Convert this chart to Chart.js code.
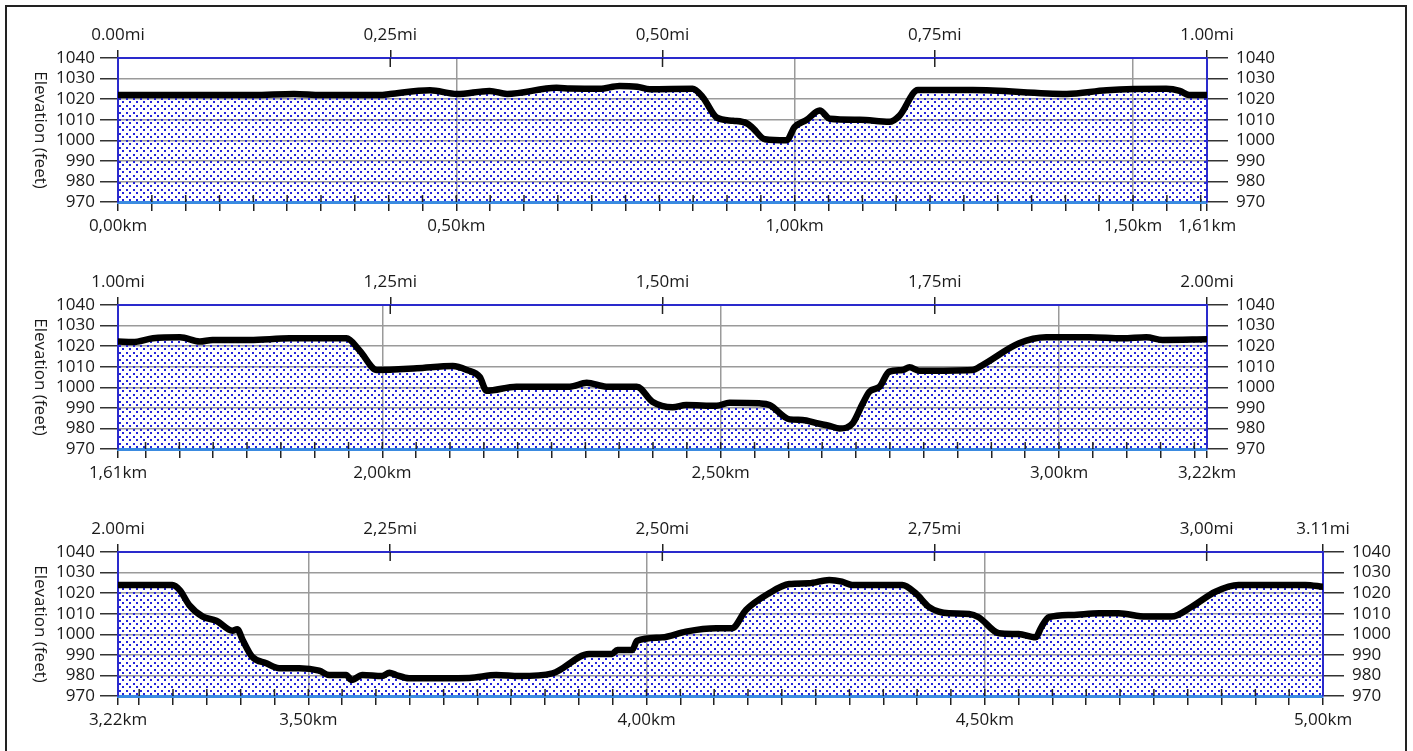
<!DOCTYPE html>
<html>
<head>
<meta charset="utf-8">
<script src="https://cdn.jsdelivr.net/npm/chart.js@4.4.1/dist/chart.umd.min.js"></script>
<style>
  html, body { margin: 0; padding: 0; background: #fff; overflow: hidden; }
  body { width: 1413px; height: 751px; position: relative; }
  #frame { position: absolute; left: 5px; top: 5px; width: 1398px; height: 800px; border: 2px solid #222; border-bottom: none; }
  canvas { position: absolute; left: 0; }
</style>
</head>
<body>
<div id="frame"></div>
<canvas id="c1" width="1413" height="247" style="top:0px"></canvas>
<canvas id="c2" width="1413" height="247" style="top:247px"></canvas>
<canvas id="c3" width="1413" height="247" style="top:494px"></canvas>
<script>
// elevation profile, 3 rows of ~1 mile each
const p1Km = [0, 0.10, 0.20, 0.26, 0.30, 0.387, 0.402, 0.461, 0.501, 0.549, 0.575, 0.648, 0.668, 0.712, 0.741, 0.767, 0.786, 0.849, 0.864, 0.885, 0.909, 0.929, 0.938, 0.956, 0.988, 1.000, 1.018, 1.037, 1.052, 1.096, 1.140, 1.155, 1.182, 1.263, 1.402, 1.461, 1.549, 1.569, 1.583, 1.6093];
const p1Ft = [1022, 1022, 1022, 1022.5, 1022, 1022, 1022.5, 1024.3, 1022.5, 1024, 1022.5, 1025.5, 1025.2, 1025, 1026.4, 1026, 1024.8, 1025, 1021, 1011, 1009.5, 1008.3, 1006, 1000.5, 1000, 1006.5, 1010, 1014.5, 1010.5, 1010, 1009, 1012, 1024.4, 1024.4, 1022.5, 1024.3, 1025, 1024, 1022, 1022];

const p2Km = [1.6093, 1.631, 1.661, 1.701, 1.730, 1.749, 1.804, 1.863, 1.947, 1.966, 1.992, 2.051, 2.104, 2.125, 2.144, 2.154, 2.198, 2.277, 2.302, 2.331, 2.376, 2.399, 2.429, 2.449, 2.494, 2.513, 2.557, 2.572, 2.602, 2.621, 2.642, 2.661, 2.676, 2.695, 2.710, 2.720, 2.735, 2.749, 2.769, 2.779, 2.794, 2.872, 2.887, 2.941, 2.981, 3.045, 3.094, 3.129, 3.153, 3.2187];
const p2Ft = [1022.2, 1022, 1023.8, 1024.3, 1022.2, 1023, 1023, 1023.8, 1023.8, 1018, 1008.4, 1009.2, 1010.3, 1008.4, 1005, 998.3, 1000.3, 1000.3, 1002.2, 1000.3, 1000.3, 993, 990.3, 991.4, 991, 992.5, 992.2, 991.4, 984.4, 984.1, 982.5, 981.2, 980, 982.5, 992.2, 997.9, 1000.3, 1007.6, 1008.4, 1009.7, 1008, 1008.4, 1010.8, 1021.4, 1024.3, 1024.3, 1023.8, 1024.3, 1023, 1023.3];

const p3Km = [3.2187, 3.299, 3.310, 3.324, 3.344, 3.364, 3.388, 3.395, 3.403, 3.417, 3.438, 3.457, 3.487, 3.516, 3.531, 3.556, 3.564, 3.580, 3.609, 3.620, 3.630, 3.649, 3.738, 3.778, 3.812, 3.861, 3.915, 3.949, 3.957, 3.979, 3.986, 4.023, 4.058, 4.103, 4.126, 4.147, 4.181, 4.211, 4.240, 4.270, 4.289, 4.304, 4.378, 4.398, 4.417, 4.432, 4.447, 4.477, 4.491, 4.521, 4.550, 4.575, 4.584, 4.595, 4.629, 4.669, 4.698, 4.738, 4.776, 4.806, 4.841, 4.875, 4.974, 5.000];
const p3Ft = [1024, 1024, 1021.5, 1014.2, 1008.6, 1006.6, 1001.7, 1002.4, 997.2, 989.1, 985.9, 983.5, 983.5, 982.3, 980.2, 980.2, 977.8, 980.2, 979.7, 981.3, 980.2, 978.6, 978.8, 980.2, 979.7, 981, 990.4, 990.4, 992.4, 992.4, 996.9, 998.5, 1001.3, 1002.9, 1002.9, 1011.8, 1019.9, 1024.4, 1024.8, 1026.4, 1025.6, 1024, 1024, 1019.9, 1013.4, 1011, 1010.2, 1009.9, 1008.3, 1000.5, 1000.1, 998.5, 1003.7, 1008.3, 1009.4, 1010.2, 1010.2, 1008.6, 1008.6, 1013.4, 1020.7, 1024, 1024, 1023.1];

const elevationTicks = [970, 980, 990, 1000, 1010, 1020, 1030, 1040];

const p1KmLabelVals = [0, 0.5, 1.0, 1.5, 1.6093];
const p1KmLabels = ['0,00km', '0,50km', '1,00km', '1,50km', '1,61km'];
const p2KmLabelVals = [1.6093, 2.0, 2.5, 3.0, 3.2187];
const p2KmLabels = ['1,61km', '2,00km', '2,50km', '3,00km', '3,22km'];
const p3KmLabelVals = [3.2187, 3.5, 4.0, 4.5, 5.0];
const p3KmLabels = ['3,22km', '3,50km', '4,00km', '4,50km', '5,00km'];

const p1MiVals = [0, 0.25, 0.5, 0.75, 1.0];
const p1MiLabels = ['0.00mi', '0,25mi', '0,50mi', '0,75mi', '1.00mi'];
const p2MiVals = [1.0, 1.25, 1.5, 1.75, 2.0];
const p2MiLabels = ['1.00mi', '1,25mi', '1,50mi', '1,75mi', '2.00mi'];
const p3MiVals = [2.0, 2.25, 2.5, 2.75, 3.0, 3.1069];
const p3MiLabels = ['2.00mi', '2,25mi', '2,50mi', '2,75mi', '3,00mi', '3.11mi'];

const KM_PER_MI = 1.609344;
const FONT = { family: "'Open Sans', sans-serif", size: 17 };
const TEXT = '#1a1a1a';
const BLUE = '#2a2acc';
const LIGHT_BLUE = '#3b8be0';
const GRID = '#9a9a9a';

function dotPattern() {
  const c = document.createElement('canvas');
  c.width = 7; c.height = 7;
  const g = c.getContext('2d');
  g.fillStyle = '#2424dc';
  g.fillRect(0, 0, 2, 2);
  g.fillRect(3, 3, 2, 2);
  return g.createPattern(c, 'repeat');
}

function lookup(vals, labels) {
  return function (v) {
    for (let i = 0; i < vals.length; i++) {
      if (Math.abs(vals[i] - v) < 1e-3) return labels[i];
    }
    return '';
  };
}

const yTitle = {
  id: 'yTitle',
  afterDraw(chart) {
    const a = chart.chartArea, ctx = chart.ctx;
    ctx.save();
    ctx.translate(40, (a.top + a.bottom) / 2);
    ctx.rotate(Math.PI / 2);
    ctx.font = "17px 'Open Sans', sans-serif";
    ctx.fillStyle = TEXT;
    ctx.textAlign = 'center';
    ctx.textBaseline = 'middle';
    ctx.fillText('Elevation (feet)', 0, 0);
    ctx.restore();
  }
};

// short tick stubs reaching into the plot
const innerTicks = {
  id: 'innerTicks',
  afterDatasetsDraw(chart) {
    const a = chart.chartArea, ctx = chart.ctx, sx = chart.scales.x, sx2 = chart.scales.x2;
    ctx.save();
    ctx.strokeStyle = '#222';
    ctx.lineWidth = 1.5;
    sx.ticks.forEach(t => {
      const px = sx.getPixelForValue(t.value);
      if (px <= a.left + 1 || px >= a.right - 1) return;
      ctx.beginPath(); ctx.moveTo(px, a.bottom); ctx.lineTo(px, a.bottom - 7); ctx.stroke();
    });
    sx2.ticks.forEach(t => {
      const px = sx2.getPixelForValue(t.value);
      if (px <= a.left + 1 || px >= a.right - 1) return;
      ctx.beginPath(); ctx.moveTo(px, a.top); ctx.lineTo(px, a.top + 9); ctx.stroke();
    });
    ctx.restore();
  }
};

function buildPanel(id, km, ft, kmLabelVals, kmLabels, miVals, miLabels, rightWidth) {
  const kmMin = km[0], kmMax = km[km.length - 1];
  const kmTicks = [kmMin];
  for (let k = Math.ceil(kmMin / 0.05 - 1e-6); k * 0.05 < kmMax - 1e-3; k++) {
    const v = +(k * 0.05).toFixed(2);
    if (v > kmMin + 1e-3) kmTicks.push(v);
  }
  kmTicks.push(kmMax);
  const isMajor = v => v > kmMin + 1e-3 && v < kmMax - 1e-3 && Math.abs(v * 2 - Math.round(v * 2)) < 1e-6;

  new Chart(document.getElementById(id), {
    type: 'line',
    data: {
      datasets: [{
        data: km.map((k, i) => ({ x: k, y: ft[i] })),
        borderColor: '#000',
        borderWidth: 6.5,
        pointRadius: 0,
        fill: 'start',
        backgroundColor: dotPattern(),
        cubicInterpolationMode: 'monotone',
        borderCapStyle: 'round',
        borderJoinStyle: 'round',
        xAxisID: 'x',
        yAxisID: 'y'
      }]
    },
    options: {
      responsive: false,
      animation: false,
      events: [],
      layout: { padding: 0 },
      plugins: { legend: { display: false }, tooltip: { enabled: false } },
      scales: {
        x: {
          type: 'linear', position: 'bottom', min: kmMin, max: kmMax,
          afterBuildTicks: s => { s.ticks = kmTicks.map(v => ({ value: v })); },
          afterFit: s => { s.height = 45; },
          ticks: { autoSkip: false, maxRotation: 0, padding: 5, color: TEXT, font: FONT, callback: lookup(kmLabelVals, kmLabels) },
          grid: { color: c => isMajor(c.tick.value) ? GRID : 'rgba(0,0,0,0)', tickColor: '#222', tickLength: 9, lineWidth: 1.5 },
          border: { color: LIGHT_BLUE, width: 3 }
        },
        x2: {
          type: 'linear', position: 'top', min: kmMin / KM_PER_MI, max: kmMax / KM_PER_MI,
          afterBuildTicks: s => { s.ticks = miVals.map(v => ({ value: v })); },
          afterFit: s => { s.height = 58; },
          ticks: { autoSkip: false, maxRotation: 0, padding: 5, color: TEXT, font: FONT, callback: lookup(miVals, miLabels) },
          grid: { drawOnChartArea: false, tickColor: '#222', tickLength: 8, lineWidth: 1.5 },
          border: { color: BLUE, width: 2 }
        },
        y: {
          position: 'left', min: 970, max: 1040,
          afterBuildTicks: s => { s.ticks = elevationTicks.map(v => ({ value: v })); },
          afterFit: s => { s.width = 118; },
          ticks: { autoSkip: false, padding: 5, color: TEXT, font: FONT, callback: v => String(v) },
          grid: { color: c => c.tick.value === 1040 ? BLUE : (c.tick.value === 970 ? LIGHT_BLUE : GRID), tickColor: '#333', tickLength: 18, lineWidth: 1.5 },
          border: { color: BLUE, width: 2 }
        },
        y2: {
          position: 'right', min: 970, max: 1040,
          afterBuildTicks: s => { s.ticks = elevationTicks.map(v => ({ value: v })); },
          afterFit: s => { s.width = rightWidth; },
          ticks: { autoSkip: false, padding: 8, color: TEXT, font: FONT, callback: v => String(v) },
          grid: { drawOnChartArea: false, tickColor: '#333', tickLength: 21, lineWidth: 1.5 },
          border: { color: BLUE, width: 2 }
        }
      }
    },
    plugins: [yTitle, innerTicks]
  });
}

buildPanel('c1', p1Km, p1Ft, p1KmLabelVals, p1KmLabels, p1MiVals, p1MiLabels, 206);
buildPanel('c2', p2Km, p2Ft, p2KmLabelVals, p2KmLabels, p2MiVals, p2MiLabels, 206);
buildPanel('c3', p3Km, p3Ft, p3KmLabelVals, p3KmLabels, p3MiVals, p3MiLabels, 90);
</script>
</body>
</html>
